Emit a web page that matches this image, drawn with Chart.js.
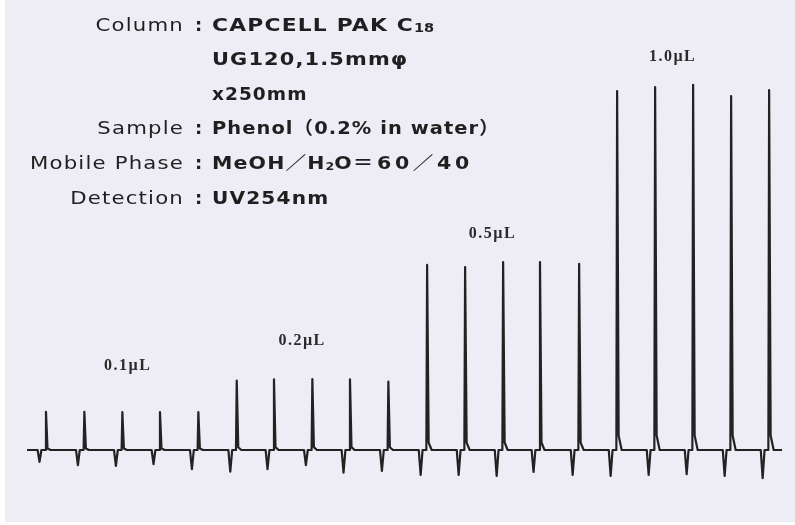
<!DOCTYPE html>
<html>
<head>
<meta charset="utf-8">
<script src="https://cdn.jsdelivr.net/npm/chart.js@4"></script>
<style>
  html, body { margin: 0; padding: 0; background: #fff; }
  #wrap { position: relative; width: 795px; height: 525px; overflow: hidden; }
  #paper { position: absolute; left: 5px; top: 0; width: 790px; height: 522px; background: #eeecf4; }
  #chart { position: absolute; left: 0; top: 0; }
  #info { position: absolute; left: 0; top: 7.7px; color: #1f1f1f;
          font-family: "DejaVu Sans", "Noto Sans CJK JP", sans-serif; font-size: 18px; }
  .row { position: relative; height: 34.6px; line-height: 34.6px; white-space: nowrap; }
  .lab { position: absolute; left: 0; width: 184px; text-align: right; letter-spacing: 1px;
         transform: scaleX(1.18); transform-origin: right center; }
  .sep { position: absolute; left: 195px; font-weight: bold; }
  .val { position: absolute; left: 212px; font-weight: bold; letter-spacing: 1px;
         transform-origin: left center; }
  .sub { font-size: 11px; letter-spacing: 0; vertical-align: -1px; }
</style>
</head>
<body>
<div id="wrap">
  <div id="paper"></div>
  <canvas id="chart" width="795" height="525"></canvas>
  <div id="info">
    <div class="row"><span class="lab">Column</span><span class="sep">:</span><span class="val" style="transform:scaleX(1.21)">CAPCELL PAK C<span class="sub" style="font-size:12px">18</span></span></div>
    <div class="row"><span class="val" style="transform:scaleX(1.16)">UG120,1.5mm&#966;</span></div>
    <div class="row"><span class="val" style="transform:scaleX(1.03)">x250mm</span></div>
    <div class="row"><span class="lab">Sample</span><span class="sep">:</span><span class="val" style="transform:scaleX(1.08)">Phenol（0.2% in water）</span></div>
    <div class="row"><span class="lab">Mobile Phase</span><span class="sep">:</span><span class="val" style="transform:scaleX(1.14)">MeOH／H<span class="sub">2</span>O<span style="letter-spacing:3.2px">＝60／40</span></span></div>
    <div class="row"><span class="lab">Detection</span><span class="sep">:</span><span class="val" style="transform:scaleX(1.12)">UV254nm</span></div>
  </div>
</div>
<script>
// retention times of the 20 injections (min)
const peakTimes = [
  1.21, 2.22, 3.22, 4.21, 5.22,
  6.23, 7.21, 8.22, 9.21, 10.22,
  11.24, 12.24, 13.24, 14.21, 15.24,
  16.24, 17.24, 18.24, 19.24, 20.24
];
// peak heights (signal units)
const peakHeights = [
  10.6, 10.6, 10.5, 10.5, 10.5,
  19.3, 19.6, 19.7, 19.6, 19.0,
  51.4, 50.8, 52.2, 52.2, 51.7,
  99.7, 100.8, 101.4, 98.3, 100.0
];
// injection shock dips just before each peak
const dipDepths = [
  -3.3, -4.2, -4.4, -3.9, -5.3,
  -6.0, -5.3, -4.2, -6.3, -5.8,
  -6.9, -6.9, -7.2, -6.1, -6.9,
  -7.2, -6.9, -6.7, -7.2, -7.8
];
const traceStart = 0.71;
const traceEnd = 20.58;

// injection volume labels
const groupLabels = ['0.1µL', '0.2µL', '0.5µL', '1.0µL'];
const labelTimes = [3.36, 7.95, 12.96, 17.70];
const labelLevels = [23.3, 30.3, 60.0, 109.2];

function buildTrace() {
  const pts = [{ x: traceStart, y: 0 }];
  peakTimes.forEach((t, i) => {
    const h = peakHeights[i];
    pts.push(
      { x: t - 0.22, y: 0 },
      { x: t - 0.17, y: dipDepths[i] },
      { x: t - 0.12, y: 0 },
      { x: t - 0.02, y: 0 },
      { x: t, y: h },
      { x: t + 0.04, y: h * 0.04 },
      { x: t + 0.12, y: 0 }
    );
  });
  pts.push({ x: traceEnd, y: 0 });
  return pts;
}

// Etiquetas de volumen
const volumeLabels = {
  id: 'volumeLabels',
  afterDatasetsDraw(chart) {
    const { ctx, scales: { x, y } } = chart;
    ctx.save();
    ctx.font = 'bold 16px "Liberation Serif"';
    ctx.letterSpacing = '1.5px';
    ctx.textAlign = 'center';
    ctx.textBaseline = 'middle';
    ctx.fillStyle = '#2a2a2a';
    groupLabels.forEach((s, i) => {
      ctx.fillText(s, x.getPixelForValue(labelTimes[i]), y.getPixelForValue(labelLevels[i]));
    });
    ctx.restore();
  }
};

new Chart(document.getElementById('chart'), {
  type: 'line',
  data: {
    datasets: [{
      data: buildTrace(),
      borderColor: '#222',
      borderWidth: 2.2,
      borderJoinStyle: 'round',
      pointRadius: 0,
      tension: 0,
      fill: false,
      clip: false
    }]
  },
  options: {
    responsive: false,
    animation: false,
    layout: { padding: { left: 0, right: 0, top: 0, bottom: 3 } },
    plugins: { legend: { display: false }, tooltip: { enabled: false } },
    scales: {
      x: { type: 'linear', min: 0, max: 795 / 38, display: false },
      y: { min: -20, max: 125, display: false }
    }
  },
  plugins: [volumeLabels]
});
</script>
</body>
</html>
